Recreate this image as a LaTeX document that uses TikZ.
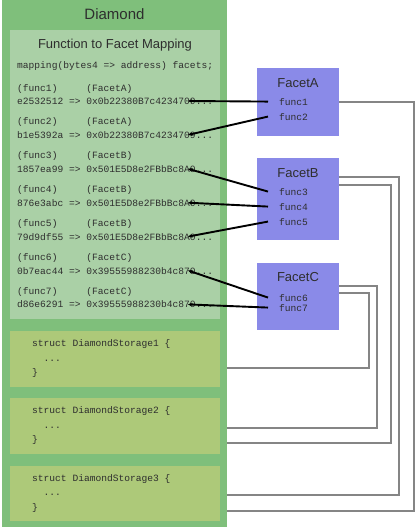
\documentclass[tikz,border=0pt]{standalone}
\usepackage{fontspec}
\setmainfont{Liberation Sans}
\setmonofont{Liberation Mono}
\usepackage{xcolor}
\usepackage{tikz}
\usetikzlibrary{arrows.meta, positioning, calc}
\definecolor{diamondgreen}{HTML}{7FBF7B}
\definecolor{mapgreen}{HTML}{AAD0A6}
\definecolor{storagegreen}{HTML}{ADC979}
\definecolor{facetblue}{HTML}{8A8AE8}
\definecolor{textgray}{HTML}{2E2E2E}
\definecolor{linkgray}{HTML}{858585}
\tikzstyle{panel} = [rectangle, inner sep=0pt, anchor=north west]
\tikzstyle{facet} = [rectangle, fill=facetblue, minimum width=82, inner sep=0pt, anchor=north west]
\tikzstyle{code} = [inner sep=0pt, anchor=base west, text=textgray, font=\fontsize{9.6}{14.5}\selectfont\ttfamily]
\tikzstyle{title} = [inner sep=0pt, anchor=base, text=textgray, font=\fontsize{13}{15}\selectfont]
\tikzstyle{maplink} = [line width=1.9pt, {Stealth[length=4pt,width=3.5pt]}-]
\tikzstyle{storelink} = [line width=2pt, draw=linkgray]

\begin{document}
\begin{tikzpicture}[x=1pt, y=-1pt]
            \useasboundingbox (0,0) rectangle (417,531);

            % Diamond and its parts
            \node (diamond) [panel, fill=diamondgreen, minimum width=225, minimum height=527] at (2,0) {};
            \node (diamondtitle) [title, font=\fontsize{15}{17}\selectfont] at (114.5,19.5) {Diamond};
            \node (mapping) [panel, fill=mapgreen, minimum width=210, minimum height=289] at (10,30) {};
            \node (storage1) [panel, fill=storagegreen, minimum width=210, minimum height=56] at (10,331) {};
            \node (storage2) [panel, fill=storagegreen, minimum width=210, minimum height=56] at (10,398) {};
            \node (storage3) [panel, fill=storagegreen, minimum width=210, minimum height=55] at (10,466) {};

            % Function to facet mapping
            \node (maptitle) [title] at (115,48.7) {Function to Facet Mapping};
            \node (mapdecl) [code] at (17,68.5) {mapping(bytes4 => address) facets;};
            \node (key1) [code] at (17,91) {(func1)\ \ \ \ \ (FacetA)};
            \node (entry1) [code] at (17,104.5) {e2532512 => 0x0b22380B7c4234709...};
            \node (key2) [code] at (17,124.9) {(func2)\ \ \ \ \ (FacetA)};
            \node (entry2) [code] at (17,138.4) {b1e5392a => 0x0b22380B7c4234709...};
            \node (key3) [code] at (17,158.8) {(func3)\ \ \ \ \ (FacetB)};
            \node (entry3) [code] at (17,172.3) {1857ea99 => 0x501E5D8e2FBbBc8A0...};
            \node (key4) [code] at (17,192.7) {(func4)\ \ \ \ \ (FacetB)};
            \node (entry4) [code] at (17,206.2) {876e3abc => 0x501E5D8e2FBbBc8A0...};
            \node (key5) [code] at (17,226.6) {(func5)\ \ \ \ \ (FacetB)};
            \node (entry5) [code] at (17,240.1) {79d9df55 => 0x501E5D8e2FBbBc8A0...};
            \node (key6) [code] at (17,260.5) {(func6)\ \ \ \ \ (FacetC)};
            \node (entry6) [code] at (17,274) {0b7eac44 => 0x39555988230b4c870...};
            \node (key7) [code] at (17,294.4) {(func7)\ \ \ \ \ (FacetC)};
            \node (entry7) [code] at (17,307.9) {d86e6291 => 0x39555988230b4c870...};

            % Storage structs (base is the last line)
            \node (struct1) [code, align=left] at (32,375.5) {struct DiamondStorage1 \{\\\phantom{00}...\\\}};
            \node (struct2) [code, align=left] at (32,442.5) {struct DiamondStorage2 \{\\\phantom{00}...\\\}};
            \node (struct3) [code, align=left] at (32,510) {struct DiamondStorage3 \{\\\phantom{00}...\\\}};

            % Facets
            \node (facetA) [facet, minimum height=68] at (257,68) {};
            \node (facetAtitle) [title] at (298,87.7) {FacetA};
            \node (func1) [code] at (279,105) {func1};
            \node (func2) [code] at (279,120) {func2};
            \node (facetB) [facet, minimum height=82] at (257,158) {};
            \node (facetBtitle) [title] at (298,177.7) {FacetB};
            \node (func3) [code] at (279,195) {func3};
            \node (func4) [code] at (279,210) {func4};
            \node (func5) [code] at (279,225) {func5};
            \node (facetC) [facet, minimum height=67] at (257,263) {};
            \node (facetCtitle) [title] at (298,281.7) {FacetC};
            \node (func6) [code] at (279,301) {func6};
            \node (func7) [code] at (279,311) {func7};

            % Pointer ends and storage ends
            \coordinate (ptr1) at (188,101);
            \coordinate (ptr2) at (188,134.9);
            \coordinate (ptr3) at (188,168.8);
            \coordinate (ptr4) at (188,202.7);
            \coordinate (ptr5) at (188,236.6);
            \coordinate (ptr6) at (188,270.5);
            \coordinate (ptr7) at (188,304.4);
            \coordinate (slot1) at ($(diamond.north east)+(0,368)$);
            \coordinate (slot2a) at ($(diamond.north east)+(0,428)$);
            \coordinate (slot2b) at ($(diamond.north east)+(0,443)$);
            \coordinate (slot3a) at ($(diamond.north east)+(0,495)$);
            \coordinate (slot3b) at ($(diamond.north east)+(0,511)$);

            % Arrows - selectors to facet functions
            \draw [maplink] (ptr1) -- ([xshift=-11pt]func1.west);
            \draw [maplink] (ptr2) -- ([xshift=-11pt]func2.west);
            \draw [maplink] (ptr3) -- ([xshift=-11pt]func3.west);
            \draw [maplink] (ptr4) -- ([xshift=-11pt]func4.west);
            \draw [maplink] (ptr5) -- ([xshift=-11pt]func5.west);
            \draw [maplink] (ptr6) -- ([xshift=-11pt]func6.west);
            \draw [maplink] (ptr7) -- ([xshift=-11pt]func7.west);

            % Lines - facets to storage
            \draw [storelink] (facetA.east |- func1.west) -- ++(75,0) |- (slot3b);
            \draw [storelink] ([yshift=-19pt]facetB.north east) -- ++(60,0) |- (slot3a);
            \draw [storelink] ([yshift=-27pt]facetB.north east) -- ++(52,0) |- (slot2b);
            \draw [storelink] ([yshift=-23pt]facetC.north east) -- ++(38,0) |- (slot2a);
            \draw [storelink] ([yshift=-30pt]facetC.north east) -- ++(30,0) |- (slot1);
        \end{tikzpicture}
\end{document}
